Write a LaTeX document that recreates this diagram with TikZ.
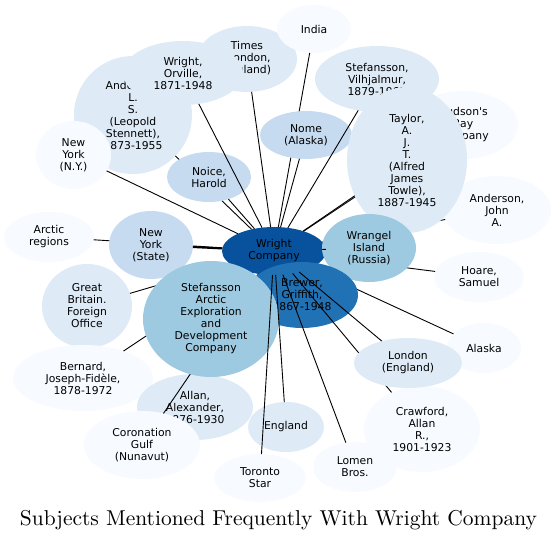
\documentclass[tikz,border=0pt]{standalone}
\usepackage{fontspec}
\usepackage{graphicx}
\usetikzlibrary{shapes.geometric}
\newfontfamily\nodefont{DejaVu Sans}
\definecolor{cA}{HTML}{F7FBFF}
\definecolor{cB}{HTML}{DEEBF7}
\definecolor{cC}{HTML}{C6DBEF}
\definecolor{cD}{HTML}{9ECAE1}
\definecolor{cF}{HTML}{2171B5}
\definecolor{cG}{HTML}{08519C}
\begin{document}
\begin{tikzpicture}[x=1pt,y=-1pt,
  bub/.style={ellipse, inner sep=0pt, outer sep=0pt, align=center,
    font=\nodefont\fontsize{10.8}{12}\selectfont, text=black},
  sz/.style 2 args={minimum width={2*#1pt}, minimum height={2*#2pt}},
  link/.style={draw=black, line width=0.9pt},
  titlestyle/.style={inner sep=0pt, anchor=base}]
\useasboundingbox (0,0) rectangle (556,540);
\node[bub,fill=cG,sz={52}{24}] (wc) at (274,251) {Wright\\Company};
\node[bub,fill=cA,sz={45}{25}] (ar) at (49,237) {Arctic\\regions};
\draw[link] (wc) -- (ar);
\node[bub,fill=cC,sz={42}{34}] (nys) at (151,245) {New\\York\\(State)};
\draw[link,line width=2pt] (wc) -- (nys);
\node[bub,fill=cB,sz={45}{42}] (gb) at (87,306) {Great\\Britain.\\Foreign\\Office};
\draw[link] (wc) -- (gb);
\node[bub,fill=cA,sz={70}{33}] (bern) at (83,378) {Bernard,\\Joseph-Fidèle,\\1878-1972};
\draw[link] (wc) -- (bern);
\node[bub,fill=cB,sz={58}{33}] (allan) at (195,407) {Allan,\\Alexander,\\1876-1930};
\draw[link] (wc) -- (allan);
\node[bub,fill=cA,sz={58}{34}] (cor) at (142,445) {Coronation\\Gulf\\(Nunavut)};
\draw[link] (wc) -- (cor);
\node[bub,fill=cB,sz={50}{33}] (times) at (247,59) {Times\\(London,\\England)};
\draw[link] (wc) -- (times);
\node[bub,fill=cA,sz={37}{24}] (india) at (314,29) {India};
\draw[link] (wc) -- (india);
\node[bub,fill=cC,sz={46}{24}] (nome) at (306,135) {Nome\\(Alaska)};
\draw[link] (wc) -- (nome);
\node[bub,fill=cB,sz={59}{59}] (als) at (133,115) {Anderson,\\L.\\S.\\(Leopold\\Stennett),\\1873-1955};
\draw[link] (wc) -- (als);
\node[bub,fill=cB,sz={60}{32}] (wo) at (183,73) {Wright,\\Orville,\\1871-1948};
\node[bub,fill=cA,sz={37.5}{34}] (nyny) at (73.5,155) {New\\York\\(N.Y.)};
\draw[link] (wc) -- (nyny);
\node[bub,fill=cC,sz={42}{25}] (noice) at (209,177) {Noice,\\Harold};
\draw[link] (wc) -- (noice);
\draw[link] (wc) -- (wo);
\node[bub,fill=cA,sz={45}{25}] (hoare) at (479,277) {Hoare,\\Samuel};
\draw[link] (wc) -- (hoare);
\node[bub,fill=cA,sz={54}{34}] (aja) at (497,210) {Anderson,\\John\\A.};
\draw[link] (wc) -- (aja);
\node[bub,fill=cA,sz={55}{34}] (hb) at (463,125) {Hudson's\\Bay\\Company};
\draw[link] (wc) -- (hb);
\node[bub,fill=cB,sz={62}{33}] (sv) at (377,79) {Stefansson,\\Vilhjalmur,\\1879-1962};
\draw[link] (wc) -- (sv);
\node[bub,fill=cB,sz={60}{73}] (taylor) at (407,160) {Taylor,\\A.\\J.\\T.\\(Alfred\\James\\Towle),\\1887-1945};
\draw[link] (wc) -- (taylor);
\node[bub,fill=cD,sz={47}{34}] (wr) at (369,248) {Wrangel\\Island\\(Russia)};
\draw[link] (wc) -- (wr);
\node[bub,fill=cA,sz={37}{25}] (alaska) at (484,348) {Alaska};
\draw[link] (wc) -- (alaska);
\node[bub,fill=cF,sz={56}{33}] (brewer) at (302,295) {Brewer,\\Griffith,\\1867-1948};
\node[bub,fill=cD,sz={68}{58}] (sa) at (211,319) {Stefansson\\Arctic\\Exploration\\and\\Development\\Company};
\node[bub,fill=cB,sz={38}{25}] (eng) at (286,427) {England};
\node[bub,fill=cA,sz={46}{24}] (tor) at (260,478) {Toronto\\Star};
\draw[link] (wc) -- (tor);
\draw[link] (wc) -- (eng);
\node[bub,fill=cA,sz={42}{25}] (lomen) at (355,467) {Lomen\\Bros.};
\draw[link] (wc) -- (lomen);
\node[bub,fill=cA,sz={58}{43}] (craw) at (422,429) {Crawford,\\Allan\\R.,\\1901-1923};
\draw[link] (wc) -- (craw);
\node[bub,fill=cB,sz={54}{25}] (london) at (408,363) {London\\(England)};
\draw[link] (wc) -- (london);
\node[titlestyle] (title) at (278.5,525.5) {\resizebox{517pt}{!}{Subjects Mentioned Frequently With Wright Company}};
\end{tikzpicture}
\end{document}
